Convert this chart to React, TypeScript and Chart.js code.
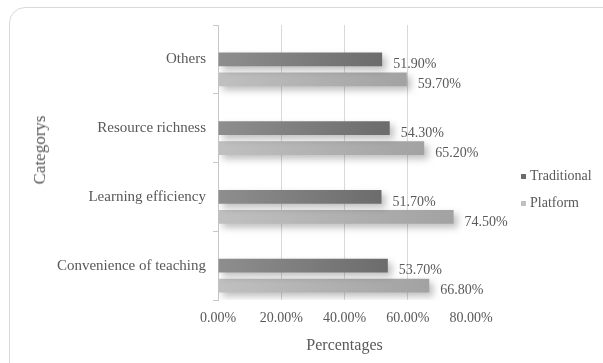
import React, { useEffect, useRef } from 'react';
import { Chart, registerables } from 'chart.js';

Chart.register(...registerables);

const categories = ['Others', 'Resource richness', 'Learning efficiency', 'Convenience of teaching'];
const traditionalValues = [51.9, 54.3, 51.7, 53.7];
const platformValues = [59.7, 65.2, 74.5, 66.8];
const seriesNames = ['Traditional', 'Platform'];
const xTickValues = [0, 20, 40, 60, 80];
const xTitle = 'Percentages';
const yTitle = 'Categorys';

const FONT = "'Liberation Serif', 'DejaVu Serif', 'Noto Serif', 'Times New Roman', Times, serif";
const TEXT = '#595959';

const tradLight = '#8e8e8e';
const tradDark = '#6c6c6c';
const platLight = '#c0c0c0';
const platDark = '#a2a2a2';

function barGradient(light: string, dark: string) {
  return (ctx: any) => {
    const chart = ctx.chart;
    const xs = chart.scales && chart.scales.x;
    if (!xs || ctx.type !== 'data') return dark;
    const v = ctx.raw;
    if (v == null) return dark;
    const x0 = xs.getPixelForValue(0);
    const x1 = xs.getPixelForValue(v);
    if (!isFinite(x0) || !isFinite(x1) || x1 <= x0) return dark;
    const g = chart.ctx.createLinearGradient(x0, 0, x1, 0);
    g.addColorStop(0, light);
    g.addColorStop(1, dark);
    return g;
  };
}

const shadowAndLabels = {
  id: 'shadowAndLabels',
  beforeDatasetsDraw(chart: any) {
    const c = chart.ctx;
    c.save();
    c.shadowColor = 'rgba(0,0,0,0.25)';
    c.shadowBlur = 7;
    c.shadowOffsetX = 4;
    c.shadowOffsetY = 4;
  },
  afterDatasetsDraw(chart: any) {
    const c = chart.ctx;
    c.restore();
    c.save();
    c.font = `14px ${FONT}`;
    c.fillStyle = TEXT;
    c.textBaseline = 'middle';
    c.textAlign = 'left';
    chart.data.datasets.forEach((ds: any, i: number) => {
      if (!ds.showValues) return;
      const meta = chart.getDatasetMeta(i);
      meta.data.forEach((el: any, j: number) => {
        const v = ds.data[j];
        if (v == null) return;
        c.fillText(v.toFixed(2) + '%', el.x + 11, el.y + 5);
      });
    });
    c.restore();
  },
};

export default function App() {
  const ref = useRef<HTMLCanvasElement | null>(null);

  useEffect(() => {
    if (!ref.current) return;
    const chart = new Chart(ref.current, {
      type: 'bar',
      data: {
        labels: categories,
        datasets: [
          {
            label: '',
            data: categories.map(() => null),
            backgroundColor: 'transparent',
          } as any,
          {
            label: seriesNames[0],
            data: traditionalValues,
            backgroundColor: barGradient(tradLight, tradDark),
            showValues: true,
          } as any,
          {
            label: seriesNames[1],
            data: platformValues,
            backgroundColor: barGradient(platLight, platDark),
            showValues: true,
          } as any,
        ],
      },
      options: {
        indexAxis: 'y',
        responsive: false,
        maintainAspectRatio: false,
        animation: false,
        categoryPercentage: 0.873,
        barPercentage: 0.68,
        layout: { padding: { top: 25, right: 132, left: 0, bottom: 0 } },
        plugins: {
          legend: { display: false },
          tooltip: { enabled: false },
        },
        scales: {
          x: {
            type: 'linear',
            position: 'bottom',
            min: xTickValues[0],
            max: xTickValues[xTickValues.length - 1],
            afterFit: (s: any) => { s.height = 63; },
            ticks: {
              stepSize: xTickValues[1] - xTickValues[0],
              callback: (v: any) => Number(v).toFixed(2) + '%',
              font: { family: FONT, size: 14 },
              color: TEXT,
              padding: 10,
            },
            grid: {
              color: (ctx: any) => (ctx.tick && ctx.tick.value === xTickValues[xTickValues.length - 1] ? 'rgba(0,0,0,0)' : '#d9d9d9'),
              drawTicks: false,
              lineWidth: 1,
            },
            border: { display: false },
            title: {
              display: true,
              text: xTitle,
              font: { family: FONT, size: 16 },
              color: TEXT,
              padding: { top: 2, bottom: 8 },
            },
          },
          y: {
            type: 'category',
            position: 'left',
            afterFit: (s: any) => { s.width = 218; },
            ticks: {
              font: { family: FONT, size: 15 },
              color: TEXT,
              padding: 7,
            },
            grid: {
              drawOnChartArea: false,
              drawTicks: true,
              tickLength: 5,
              offset: true,
              color: '#c8c8c8',
            },
            border: { display: true, color: '#c8c8c8' },
          },
        },
      } as any,
      plugins: [shadowAndLabels],
    });
    return () => chart.destroy();
  }, []);

  const legendItem = (name: string, color: string, top: number) => (
    <div
      key={name}
      style={{
        position: 'absolute',
        left: 521,
        top,
        height: 18,
        display: 'flex',
        alignItems: 'center',
        fontFamily: FONT,
        fontSize: 14,
        color: TEXT,
        whiteSpace: 'nowrap',
      }}
    >
      <span style={{ display: 'inline-block', width: 5, height: 5, background: color, marginRight: 4 }} />
      <span>{name}</span>
    </div>
  );

  return (
    <div
      style={{
        position: 'fixed',
        left: 0,
        top: 0,
        width: 603,
        height: 363,
        overflow: 'hidden',
        background: '#ffffff',
      }}
    >
      <div
        style={{
          position: 'absolute',
          left: 9,
          top: 7,
          width: 640,
          height: 420,
          border: '1px solid #d9d9d9',
          borderRadius: 16,
          boxSizing: 'border-box',
        }}
      />
      <canvas
        ref={ref}
        width={603}
        height={363}
        style={{ position: 'absolute', left: 0, top: 0, width: 603, height: 363, display: 'block' }}
      />
      <div
        style={{
          position: 'absolute',
          left: 40,
          top: 150,
          transform: 'translate(-50%, -50%) rotate(-90deg)',
          fontFamily: FONT,
          fontSize: 17,
          color: TEXT,
          whiteSpace: 'nowrap',
          lineHeight: '20px',
        }}
      >
        {yTitle}
      </div>
      {legendItem(seriesNames[0], tradDark, 167)}
      {legendItem(seriesNames[1], platLight, 194)}
    </div>
  );
}
